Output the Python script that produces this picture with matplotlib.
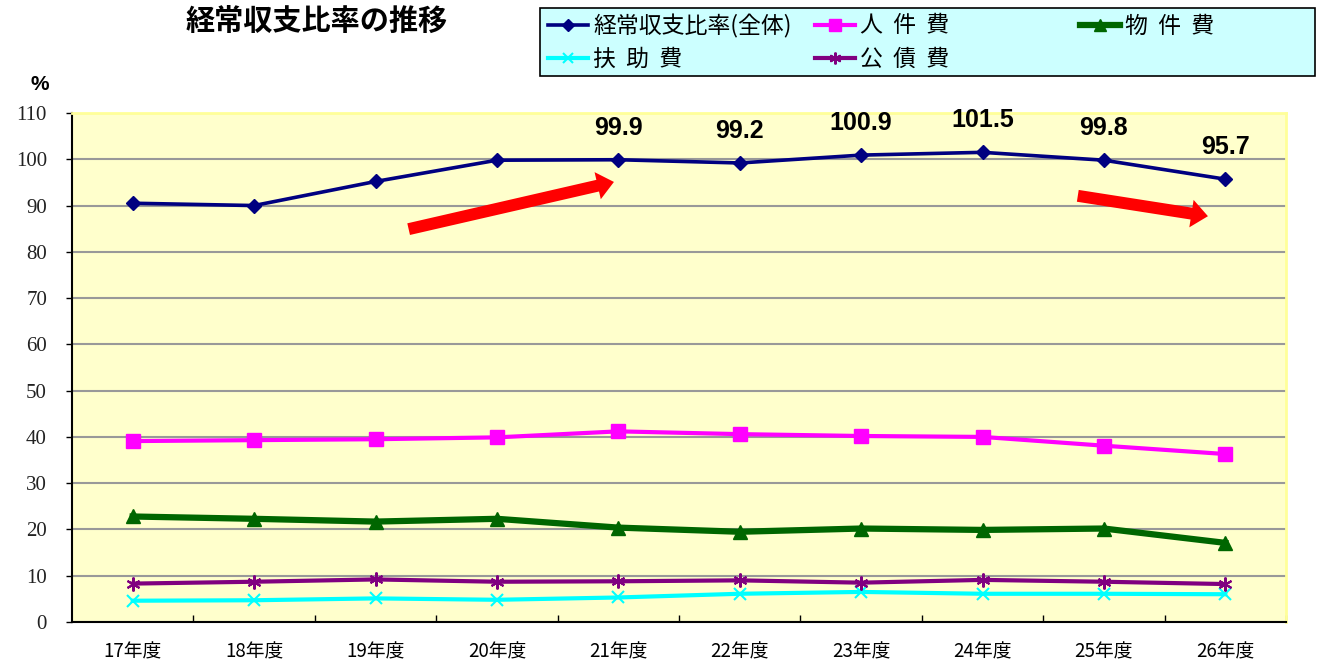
import matplotlib
matplotlib.use("Agg")
import matplotlib.pyplot as plt
from matplotlib.patches import Rectangle, FancyArrowPatch
from matplotlib.lines import Line2D

# ---------------- data ----------------
categories = ['17年度', '18年度', '19年度', '20年度', '21年度',
              '22年度', '23年度', '24年度', '25年度', '26年度']
total = [90.5, 90.0, 95.2, 99.8, 99.9, 99.2, 100.9, 101.5, 99.8, 95.7]
personnel = [39.1, 39.3, 39.5, 39.9, 41.2, 40.6, 40.2, 40.0, 38.1, 36.3]
goods = [22.8, 22.3, 21.7, 22.3, 20.4, 19.5, 20.2, 19.9, 20.2, 17.1]
aid = [4.6, 4.7, 5.1, 4.8, 5.3, 6.1, 6.5, 6.1, 6.1, 6.0]
debt = [8.3, 8.7, 9.2, 8.7, 8.8, 9.0, 8.5, 9.1, 8.7, 8.2]
labelled_from = 4  # data labels shown from 21年度 on
yticks = list(range(0, 111, 10))

series_names = ['経常収支比率(全体)', '扶  助  費', '人  件  費', '公  債  費', '物  件  費']

CJK = ['Noto Sans CJK JP', 'DejaVu Sans']
W, H = 1317, 660
fig = plt.figure(figsize=(W / 100, H / 100), dpi=100)
fig.patch.set_facecolor('white')

left, right, top, bottom = 72, 1286, 113, 622
ax = fig.add_axes([left / W, 1 - bottom / H, (right - left) / W, (bottom - top) / H])
ax.set_facecolor('#FFFFCC')

x = list(range(len(categories)))

styles = {
    'total': dict(color='#000080', lw=2.6, marker='D', ms=7.5, mec='#000080', mfc='#000080'),
    'aid': dict(color='#00FFFF', lw=3.0, marker='x', ms=9, mew=1.5, mec='#00FFFF'),
    'personnel': dict(color='#FF00FF', lw=3.0, marker='s', ms=10, mec='#FF00FF', mfc='#FF00FF'),
    'debt': dict(color='#800080', lw=3.0, marker=(6, 2, 0), ms=10, mew=1.5, mec='#800080'),
    'goods': dict(color='#006600', lw=4.5, marker='^', ms=10, mec='#006600', mfc='#006600'),
}

ax.plot(x, aid, **styles['aid'], zorder=3)
ax.plot(x, debt, **styles['debt'], zorder=3)
ax.plot(x, goods, **styles['goods'], zorder=3)
ax.plot(x, personnel, **styles['personnel'], zorder=3)
ax.plot(x, total, **styles['total'], zorder=4)

for i in range(labelled_from, len(total)):
    ax.annotate(f'{total[i]:.1f}', xy=(i, total[i]), xytext=(0, 23),
                textcoords='offset points', ha='center', va='center',
                fontsize=18, fontweight='bold', family='Liberation Sans')

# red trend arrows (annotations)
arrow_style = 'simple,head_length=12,head_width=20,tail_width=8.6'
for tail, tip in [((2.273, 84.9), (3.964, 95.1)), ((7.785, 92.1), (8.857, 87.7))]:
    ax.add_patch(FancyArrowPatch(tail, tip, arrowstyle=arrow_style, color='#FF0000',
                                 mutation_scale=1, shrinkA=0, shrinkB=0, lw=0, zorder=5))

ax.set_xlim(-0.5, len(categories) - 0.5)
ax.set_ylim(0, 110)
ax.set_yticks(yticks)
ax.set_yticklabels([str(v) for v in yticks])
ax.tick_params(axis='y', direction='out', length=4, width=1, pad=14,
               labelsize=15, labelfontfamily='Liberation Serif', labelcolor='#222222')
ax.yaxis.grid(True, color='#999999', lw=1.5)
ax.set_axisbelow(True)

ax.set_xticks(x)
ax.set_xticklabels(categories, family=CJK, fontsize=13.5)
ax.set_xticks([i + 0.5 for i in x], minor=True)
ax.tick_params(axis='x', which='major', length=0, pad=14)
ax.tick_params(axis='x', which='minor', direction='in', length=5, width=1)

for s in ['left', 'bottom']:
    ax.spines[s].set_color('black')
    ax.spines[s].set_linewidth(1.5)
for s in ['top', 'right']:
    ax.spines[s].set_color('#FFFF99')
    ax.spines[s].set_linewidth(2)

# ---------------- overlay (title, unit, legend) ----------------
ov = fig.add_axes([0, 0, 1, 1], zorder=10)
ov.set_xlim(0, W)
ov.set_ylim(H, 0)
ov.axis('off')
ov.patch.set_alpha(0)

ov.text(317, 21, '経常収支比率の推移', ha='center', va='center', fontsize=21,
        fontweight='bold', family=CJK)
ov.text(40, 85, '%', ha='center', va='center', fontsize=15, fontweight='bold',
        family='Liberation Sans')

ov.add_patch(Rectangle((540, 8), 775, 68, facecolor='#CCFFFF', edgecolor='black', lw=1.2))
leg_keys = ['total', 'aid', 'personnel', 'debt', 'goods']
col_x = [548, 548, 815, 815, 1080]
row_y = [25, 58, 25, 58, 25]
for key, name, cx, ry in zip(leg_keys, series_names, col_x, row_y):
    st = dict(styles[key])
    ov.add_line(Line2D([cx, cx + 40], [ry, ry], markevery=[], **st))
    ov.plot([cx + 20], [ry], linestyle='none', marker=st['marker'], ms=st['ms'] * 0.85,
            mec=st.get('mec'), mfc=st.get('mfc', 'none'), mew=st.get('mew', 1))
    ov.text(cx + 45, ry + 1, name, ha='left', va='center', fontsize=16.5, family=CJK)

fig.savefig('out.png', dpi=100)
